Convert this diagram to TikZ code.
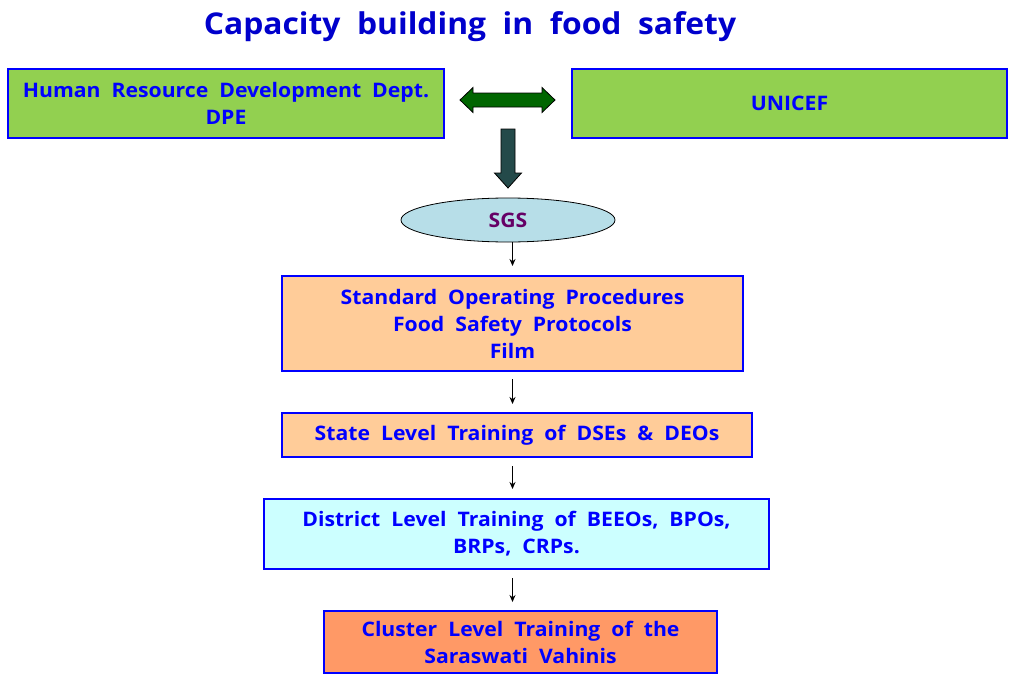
\documentclass[tikz,border=0pt]{standalone}
\usepackage{fontspec}
\setmainfont{Open Sans}[FakeStretch=1.06, WordSpace=2.0]
\usetikzlibrary{shapes.geometric,arrows.meta}
\definecolor{txtblue}{HTML}{0000FF}
\definecolor{titleblue}{HTML}{0000CC}
\definecolor{boxgreen}{HTML}{92D050}
\definecolor{peach}{HTML}{FFCC99}
\definecolor{lightcyan}{HTML}{CCFFFF}
\definecolor{salmon}{HTML}{FF9966}
\definecolor{ellfill}{HTML}{B7DEE8}
\definecolor{sgspurple}{HTML}{660066}
\definecolor{dkgreen}{HTML}{006600}
\definecolor{slate}{HTML}{244A4A}
\tikzset{
  box/.style={draw=txtblue, line width=2pt, text=txtblue, align=center,
    font=\fontsize{20}{27}\selectfont\bfseries, inner sep=0pt},
  flow/.style={draw=black, line width=0.9pt, -{Stealth[length=7pt,width=6pt]}},
  blockarrow/.style={draw=black, line width=0.8pt}
}
\begin{document}
\begin{tikzpicture}[x=1pt,y=-1pt]
\useasboundingbox (0,0) rectangle (1011,677);
\node[text=titleblue, font=\fontsize{30}{36}\selectfont\bfseries] (title) at (470,27) {Capacity building in food safety};
\node[box, fill=boxgreen, minimum width=436pt, minimum height=69pt] (hrd) at (226,103.5) {Human Resource Development Dept.\\DPE};
\node[box, fill=boxgreen, minimum width=435pt, minimum height=69pt] (unicef) at (789.5,103.5) {UNICEF};
\draw[blockarrow, fill=dkgreen] (460,100) -- (473,87.5) -- (473,93) -- (542,93) -- (542,87.5) -- (555,100) -- (542,112.5) -- (542,107) -- (473,107) -- (473,112.5) -- cycle;
\draw[blockarrow, fill=slate] (501,129) -- (515,129) -- (515,173) -- (521.5,173) -- (508,188) -- (494.5,173) -- (501,173) -- cycle;
\node[ellipse, draw=black, line width=0.8pt, fill=ellfill, minimum width=214pt, minimum height=44pt, inner sep=0pt, text=sgspurple, font=\fontsize{20}{27}\selectfont\bfseries] (sgs) at (508,220) {SGS};
\node[box, fill=peach, minimum width=461pt, minimum height=95pt] (sop) at (512.5,323.5) {Standard Operating Procedures\\Food Safety Protocols\\Film};
\node[box, fill=peach, minimum width=470pt, minimum height=44pt] (state) at (517,435) {State Level Training of DSEs \& DEOs};
\node[box, fill=lightcyan, minimum width=505pt, minimum height=70pt] (district) at (516.5,534) {District Level Training of BEEOs, BPOs,\\BRPs, CRPs.};
\node[box, fill=salmon, minimum width=393pt, minimum height=62pt] (cluster) at (520.5,642) {Cluster Level Training of the\\Saraswati Vahinis};
\draw[flow, shorten >=9pt] (sgs.south -| sop.north) -- (sop.north);
\draw[flow, shorten <=7pt, shorten >=8pt] (sop.south) -- (state.north -| sop.south);
\draw[flow, shorten <=8pt, shorten >=9pt] (state.south -| sop.south) -- (district.north -| sop.south);
\draw[flow, shorten <=8pt, shorten >=8pt] (district.south -| sop.south) -- (cluster.north -| sop.south);
\end{tikzpicture}
\end{document}
